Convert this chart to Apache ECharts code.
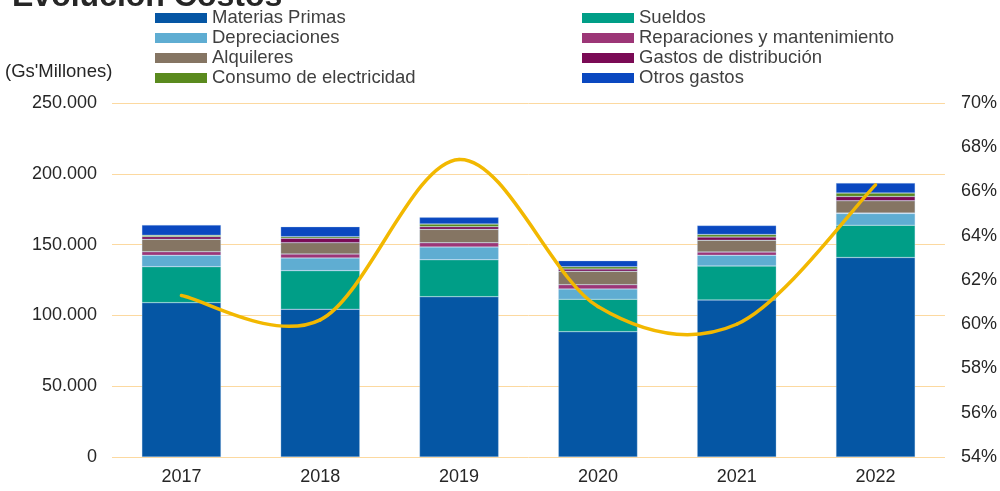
<!DOCTYPE html>
<html><head><meta charset="utf-8">
<script src="https://cdn.jsdelivr.net/npm/echarts@6/dist/echarts.min.js"></script>
<style>html,body{margin:0;padding:0;background:#fff}#c{width:1000px;height:491px}</style>
</head><body><div id="c"></div>
<script>
const categories = ['2017','2018','2019','2020','2021','2022'];
const materiasPrimas = [109000, 104300, 113200, 88500, 110900, 140900];
const sueldos = [25400, 27300, 26100, 22900, 24000, 22800];
const depreciaciones = [8050, 8970, 8970, 7270, 7560, 8260];
const reparaciones = [2540, 2820, 3040, 3040, 2330, 300];
const alquileres = [8760, 7980, 9460, 9460, 8260, 8690];
const gastosDistribucion = [1840, 3100, 1840, 1620, 2330, 3040];
const consumoElectricidad = [990, 1130, 1900, 1620, 1770, 2400];
const otrosGastos = [7270, 7060, 4730, 4240, 6360, 7060];
const ratioPct = [61.3, 60.2, 67.45, 60.8, 60.0, 66.3];
const leftTicks = {min: 0, max: 250000, interval: 50000};
const rightTicks = {min: 54, max: 70, interval: 2};

const F = 'Liberation Sans, Arial, sans-serif';
const names = ['Materias Primas','Sueldos','Depreciaciones','Reparaciones y mantenimiento','Alquileres','Gastos de distribución','Consumo de electricidad','Otros gastos'];
const datas = [materiasPrimas,sueldos,depreciaciones,reparaciones,alquileres,gastosDistribucion,consumoElectricidad,otrosGastos];
const colors = ['#0556A4','#009E87','#5FADD2','#9C3677','#857563','#7A0A55','#5A8A1E','#0A48C0'];

const series = names.map((n,i)=>({
  name:n, type:'bar', stack:'costos', data:datas[i], barCategoryGap:'43%',
  itemStyle:{color:colors[i], borderColor:'rgba(190,215,240,0.6)', borderWidth:0.5},
  emphasis:{disabled:true}
}));
// Smoothed ratio line (Catmull-Rom through the data points, positioned by the axes)
series.push({
  name:'ratio', type:'custom', coordinateSystem:'cartesian2d', yAxisIndex:1, z:5,
  data: ratioPct.map((v,i)=>[i,v]),
  renderItem:(params, api)=>{
    const i = params.dataIndex, n = ratioPct.length;
    if (i >= n-1) return null;
    const P = k => api.coord([k, ratioPct[k]]);
    const p0 = P(Math.max(i-1,0)), p1 = P(i), p2 = P(i+1), p3 = P(Math.min(i+2,n-1));
    return {type:'bezierCurve', shape:{
        x1:p1[0], y1:p1[1], x2:p2[0], y2:p2[1],
        cpx1:p1[0]+(p2[0]-p0[0])/6, cpy1:p1[1]+(p2[1]-p0[1])/6,
        cpx2:p2[0]-(p3[0]-p1[0])/6, cpy2:p2[1]-(p3[1]-p1[1])/6},
      style:{fill:null, stroke:'#F2B800', lineWidth:3.5, lineCap:'round'}};
  }
});

const legendCommon = {orient:'vertical', itemWidth:52, itemHeight:10, itemGap:0, icon:'rect',
  itemStyle:{borderWidth:0},
  textStyle:{fontFamily:F, fontSize:18.5, color:'#404040', lineHeight:20, padding:[0,0,0,0]}, selectedMode:false, padding:0};

const chart = echarts.init(document.getElementById('c'), null, {renderer:'canvas'});
chart.setOption({
  animation:false,
  textStyle:{fontFamily:F},
  graphic:[
    {type:'text', left:12, top:-19, style:{text:'Evolución Costos', font:'bold 32px '+F, fill:'#262626'}},
    {type:'text', left:5, top:62, style:{text:"(Gs'Millones)", font:'18.5px '+F, fill:'#262626'}}
  ],
  legend:[
    Object.assign({left:155, top:8, data:[names[0],names[2],names[4],names[6]]}, legendCommon),
    Object.assign({left:582, top:8, data:[names[1],names[3],names[5],names[7]]}, legendCommon)
  ],
  grid:{left:112, right:54.5, top:103, bottom:34},
  xAxis:{type:'category', data:categories,
    axisLine:{show:false}, axisTick:{show:false},
    axisLabel:{fontFamily:F, fontSize:18, color:'#262626', margin:11}},
  yAxis:[
    {type:'value', min:leftTicks.min, max:leftTicks.max, interval:leftTicks.interval,
     axisLabel:{fontFamily:F, fontSize:18, color:'#262626', margin:15,
       formatter:v=>v===0?'0':v.toLocaleString('de-DE')},
     splitLine:{lineStyle:{color:'#FCD9A0', width:1}}, axisLine:{show:false}, axisTick:{show:false}},
    {type:'value', min:rightTicks.min, max:rightTicks.max, interval:rightTicks.interval,
     axisLabel:{fontFamily:F, fontSize:18, color:'#262626', margin:16, formatter:v=>v+'%'},
     splitLine:{show:false}, axisLine:{show:false}, axisTick:{show:false}}
  ],
  series:series
});
</script></body></html>
